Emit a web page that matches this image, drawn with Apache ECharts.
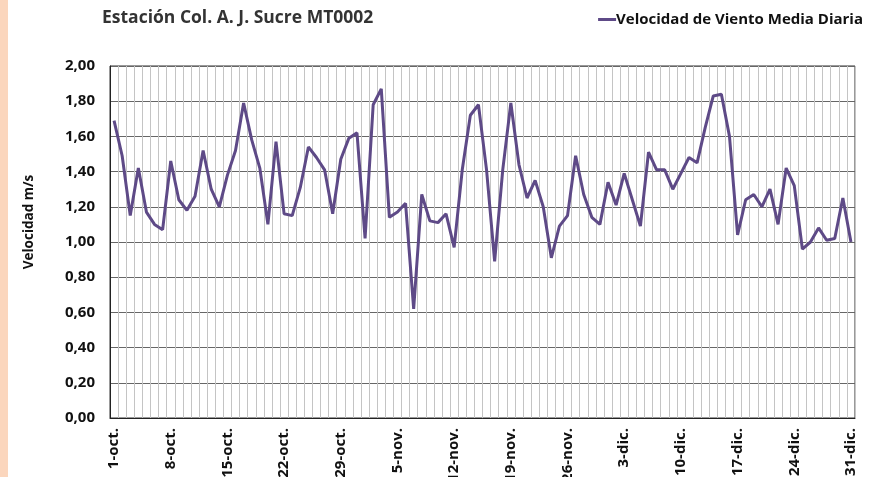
<!DOCTYPE html>
<html>
<head>
<meta charset="utf-8">
<script src="https://cdn.jsdelivr.net/npm/echarts@6/dist/echarts.min.js"></script>
<style>
  html, body { margin: 0; padding: 0; background: #fff; }
  #chart { width: 881px; height: 477px; }
</style>
</head>
<body>
<div id="chart"></div>
<script>
// months shown on the axis and their day counts (1-oct .. 31-dic)
const months = ['oct.', 'nov.', 'dic.'];
const monthDays = [31, 30, 31];

const categories = [];
months.forEach((m, i) => {
  for (let d = 1; d <= monthDays[i]; d++) categories.push(d + '-' + m);
});

// daily mean wind speed, m/s
const windSpeed = [
  1.69, 1.49, 1.15, 1.42, 1.17, 1.10, 1.07, 1.46, 1.24, 1.18,
  1.26, 1.52, 1.30, 1.20, 1.38, 1.52, 1.79, 1.58, 1.42, 1.10,
  1.57, 1.16, 1.15, 1.31, 1.54, 1.48, 1.41, 1.16, 1.47, 1.59,
  1.62, 1.02, 1.78, 1.87, 1.14, 1.17, 1.22, 0.62, 1.27, 1.12,
  1.11, 1.16, 0.97, 1.41, 1.72, 1.78, 1.41, 0.89, 1.41, 1.79,
  1.44, 1.25, 1.35, 1.20, 0.91, 1.09, 1.15, 1.49, 1.27, 1.14,
  1.10, 1.34, 1.21, 1.39, 1.24, 1.09, 1.51, 1.41, 1.41, 1.30,
  1.39, 1.48, 1.45, 1.65, 1.83, 1.84, 1.60, 1.04, 1.24, 1.27,
  1.20, 1.30, 1.10, 1.42, 1.32, 0.96, 1.00, 1.08, 1.01, 1.02,
  1.25, 1.00
];

const seriesName = 'Velocidad de Viento Media Diaria';
const titleText = 'Estación Col. A. J. Sucre MT0002';
const yAxisTitle = 'Velocidad m/s';

const font = 'Open Sans';
const chart = echarts.init(document.getElementById('chart'));

chart.setOption({
  animation: false,
  backgroundColor: '#fff',
  title: {
    text: titleText,
    left: 97,
    top: 4,
    textStyle: { fontFamily: font, fontSize: 17.5, fontWeight: 'bold', color: '#333' }
  },
  legend: {
    right: 13,
    top: 7,
    icon: 'rect',
    itemWidth: 18,
    itemHeight: 3,
    textStyle: { fontFamily: font, fontSize: 15, fontWeight: 'bold', color: '#111', padding: [0, 0, 0, -5] },
    data: [seriesName]
  },
  grid: {
    left: 110,
    right: 26,
    top: 66,
    bottom: 59,
    containLabel: false,
    outerBoundsMode: 'none',
    show: true,
    borderColor: '#333',
    borderWidth: 1
  },
  xAxis: {
    type: 'category',
    data: categories,
    boundaryGap: true,
    axisLine: { lineStyle: { color: '#222', width: 1 } },
    axisTick: { show: false },
    axisLabel: {
      interval: 6,
      rotate: 90,
      margin: 10,
      fontFamily: font,
      fontSize: 15,
      fontWeight: 'bold',
      color: '#111'
    },
    splitLine: { show: true, interval: 0, lineStyle: { color: '#c4c4c4', width: 1 } }
  },
  yAxis: {
    type: 'value',
    min: 0,
    max: 2,
    interval: 0.2,
    axisLine: { show: true, lineStyle: { color: '#222', width: 1 } },
    axisTick: { show: false },
    axisLabel: {
      margin: 15,
      fontFamily: font,
      fontSize: 15,
      fontWeight: 'bold',
      color: '#111',
      formatter: v => v.toFixed(2).replace('.', ',')
    },
    splitLine: { show: true, lineStyle: { color: '#666', width: 1 } }
  },
  graphic: [
    {
      type: 'rect',
      left: 0,
      top: 0,
      shape: { width: 8, height: 477 },
      style: { fill: '#fbd6bd' }
    },
    {
      type: 'text',
      x: 29,
      y: 222,
      rotation: Math.PI / 2,
      style: {
        text: yAxisTitle,
        fontFamily: font,
        fontSize: 13.5,
        fontWeight: 'bold',
        fill: '#111',
        align: 'center',
        verticalAlign: 'middle'
      }
    }
  ],
  series: [
    {
      name: seriesName,
      type: 'line',
      data: windSpeed,
      showSymbol: false,
      symbol: 'none',
      lineStyle: { color: '#5e4a87', width: 3 },
      itemStyle: { color: '#5e4a87' }
    }
  ]
});
</script>
</body>
</html>
